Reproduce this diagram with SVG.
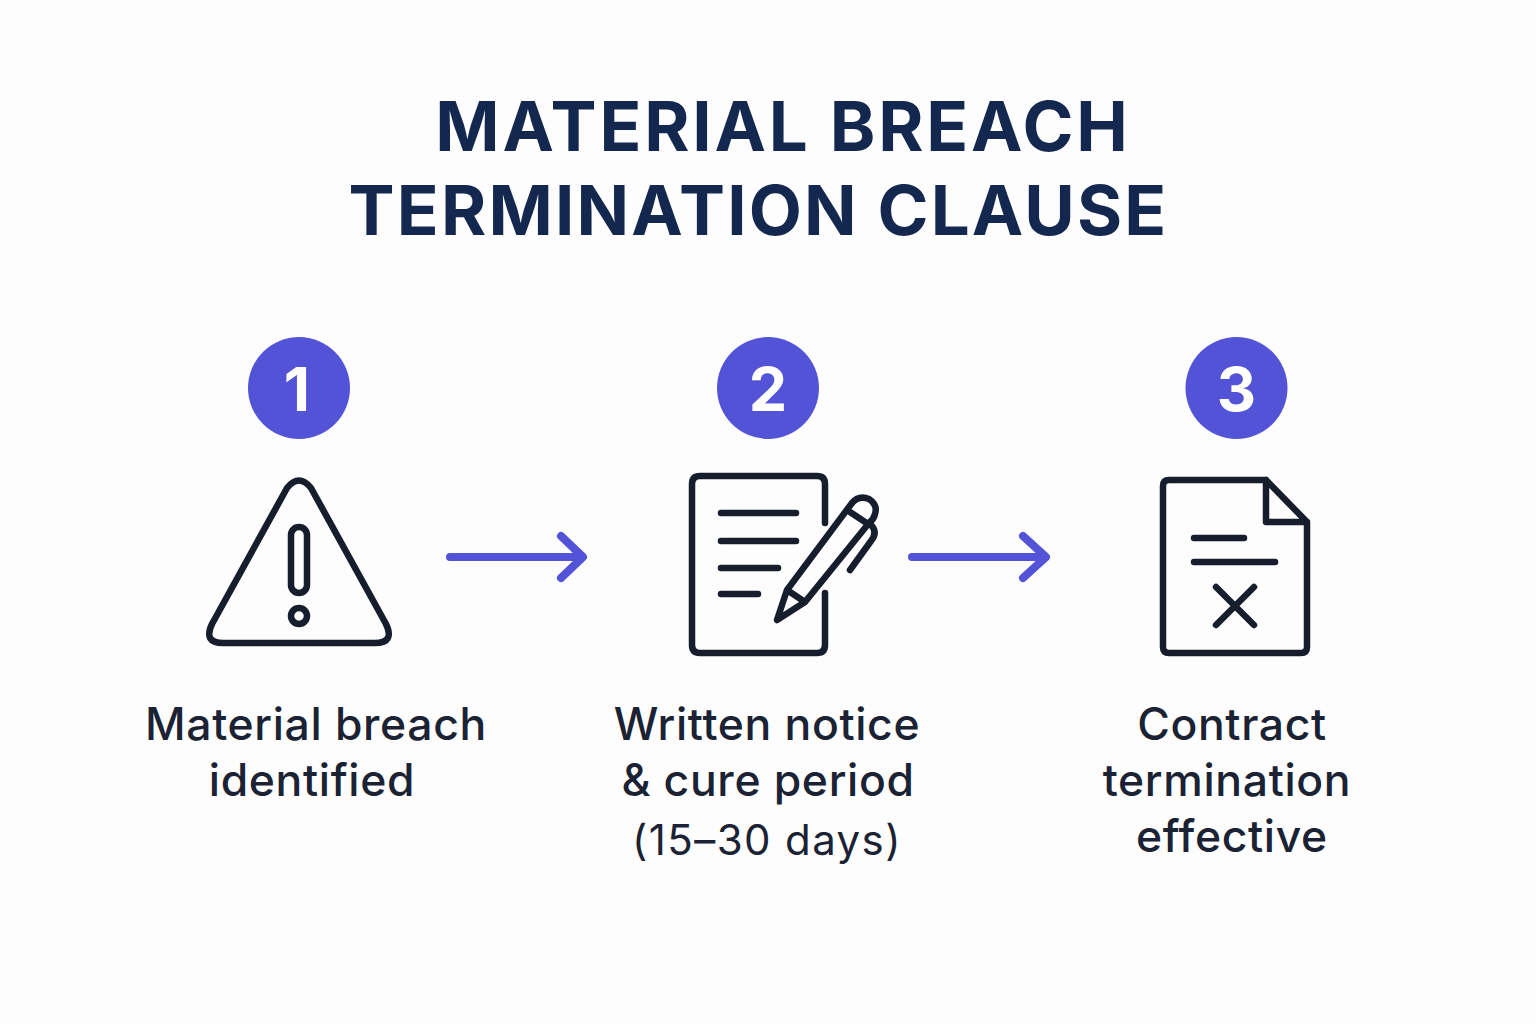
<svg xmlns="http://www.w3.org/2000/svg" width="1536" height="1024" viewBox="0 0 1536 1024">
<style>
.t{font-family:Inter,"Liberation Sans",sans-serif;text-anchor:middle}
.h{font-size:69px;font-weight:700;fill:#14284f;letter-spacing:2.2px}
.l{font-size:44.5px;font-weight:500;fill:#1a2233;letter-spacing:.65px}
.s{font-size:42px;font-weight:400;fill:#1a2233;letter-spacing:1.4px}
.n{font-size:61px;font-weight:700;fill:#fff}
.b{fill:#5353d8}
.i{fill:none;stroke:#161e2e;stroke-width:6.5;stroke-linecap:round;stroke-linejoin:round}
.a{fill:none;stroke:#5353d8;stroke-width:8;stroke-linecap:round;stroke-linejoin:round}
</style>
<rect width="1536" height="1024" fill="#fdfdfd"/>
<g id="title"><text class="t h" x="783" y="150.500" style="letter-spacing:2.8px">MATERIAL BREACH</text><text class="t h" x="758.500" y="234.500">TERMINATION CLAUSE</text></g>
<g id="connectors">
<path class="a" d="M450 557H582M561 536L583 557L561 578"/>
<path class="a" d="M912 557H1045M1023 536L1046 557L1023 578"/>
</g>
<g id="step1">
<circle class="b" cx="299" cy="388" r="51"/><text class="t n" x="297" y="411">1</text>
<path class="i" d="M287 488Q299 473 311 488L386 624Q395 643 375 643H223Q203 643 212 624Z"/>
<rect class="i" x="291" y="527" width="16" height="66" rx="8"/><circle class="i" cx="299" cy="616" r="8"/>
<text class="t l" x="316" y="739.500">Material breach</text><text class="t l" x="312" y="795.500">identified</text>
</g>
<g id="step2">
<circle class="b" cx="768" cy="388" r="51"/><text class="t n" x="768" y="411">2</text>
<path class="i" d="M825 523V484Q825 476 817 476H700Q692 476 692 484V645Q692 653 700 653H817Q825 653 825 645V593"/>
<path class="i" d="M721 513H796M721 541H796M721 568H778M721 594H758"/>
<path class="i" d="M777 620L787 590L852 503Q859 495 869 499Q878 505 875 514Q874 519 869 523L805 602ZM787 590L805 602M850 512L868 524M869 523Q879 531 871 541L850 570"/>
<text class="t l" x="767" y="739.500">Written notice</text><text class="t l" x="768" y="795.500">&amp; cure period</text><text class="t s" x="767" y="855">(15–30 days)</text>
</g>
<g id="step3">
<circle class="b" cx="1236.500" cy="388" r="51"/><text class="t n" x="1236.500" y="411">3</text>
<path class="i" d="M1266 480H1169Q1163 480 1163 486V647Q1163 653 1169 653H1301Q1307 653 1307 647V522L1266 480V522H1307"/>
<path class="i" d="M1194 538H1244M1194 562H1275M1216 587L1254 625M1254 587L1216 625"/>
<text class="t l" x="1232" y="739.500">Contract</text><text class="t l" x="1227" y="795.500">termination</text><text class="t l" x="1232" y="851.500">effective</text>
</g>
</svg>
